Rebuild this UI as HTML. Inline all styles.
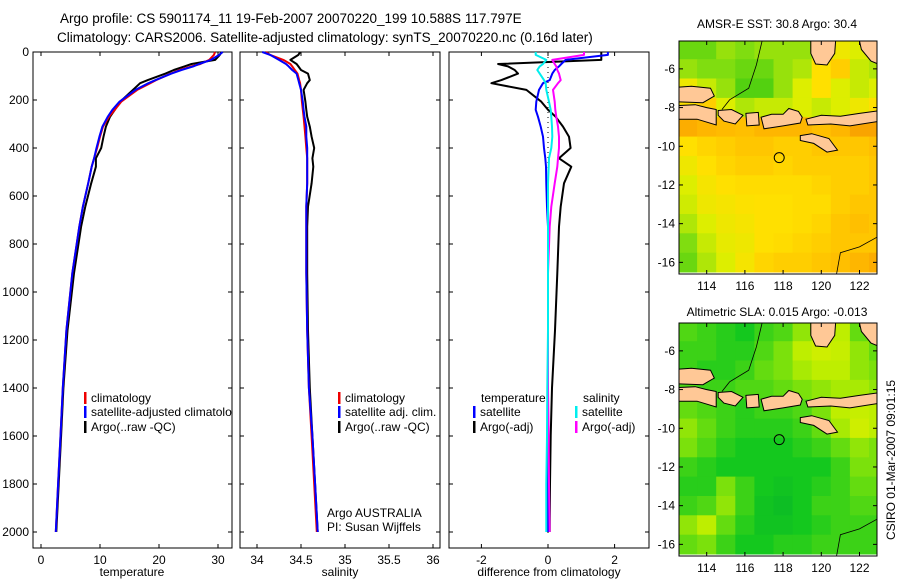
<!DOCTYPE html>
<html><head><meta charset="utf-8">
<style>
html,body{margin:0;padding:0;background:#fff;}
svg{display:block;font-family:"Liberation Sans",sans-serif;}
text{fill:#000;}
</style></head>
<body>
<svg id="fig" width="900" height="580" viewBox="0 0 900 580" xmlns="http://www.w3.org/2000/svg">
<text x="60" y="23" font-size="13.5">Argo profile: CS 5901174_11 19-Feb-2007 20070220_199 10.588S 117.797E</text>
<text x="57" y="42" font-size="13.5">Climatology: CARS2006. Satellite-adjusted climatology: synTS_20070220.nc (0.16d later)</text>
<text x="777" y="28" font-size="12" text-anchor="middle">AMSR-E SST: 30.8 Argo: 30.4</text>
<text x="777" y="316" font-size="12" text-anchor="middle">Altimetric SLA: 0.015 Argo: -0.013</text>
<text transform="translate(895,460) rotate(-90)" font-size="12" text-anchor="middle">CSIRO 01-Mar-2007 09:01:15</text>
<defs><clipPath id="clip-temp-panel"><rect x="33" y="52" width="199" height="496"/></clipPath></defs>
<g id="plots"></g>
</svg>
<script>
// ---- profile data ----
const depths = [0,12,33,50,60,75,90,117,130,158,207,241,270,311,353,400,443,478,547,644,728,922,1160,1400,1600,1800,2000];
const tempClim = [29.5,29.3,28.5,27,25.5,23.5,22,19.5,18.5,16.3,13.6,12.5,11.5,10.5,10,9.5,9,8.6,8,7.1,6.5,5.3,4.3,3.7,3.3,2.9,2.5];
const tempSat  = [30.8,30.2,28.8,26.8,25.8,23.8,22.1,19.4,18.2,16.0,13.3,12.1,11.3,10.4,9.9,9.4,9,8.6,8,7.1,6.5,5.3,4.3,3.7,3.3,2.9,2.5];
const tempArgo = [30.6,30.3,29.5,25.5,24.3,22.5,21.1,18.1,16.8,15.6,13.4,12.5,11.7,11.0,10.6,10.2,9.3,9.3,8.5,7.5,6.8,5.6,4.5,3.8,3.4,3.0,2.6];
const salClim  = [34.1,34.15,34.3,34.38,34.4,34.43,34.46,34.48,34.49,34.5,34.51,34.52,34.53,34.54,34.55,34.56,34.57,34.57,34.57,34.56,34.56,34.56,34.57,34.59,34.62,34.65,34.68];
const salSat   = [34.06,34.15,34.25,34.33,34.36,34.40,34.45,34.47,34.48,34.5,34.52,34.53,34.54,34.56,34.56,34.57,34.57,34.57,34.57,34.56,34.56,34.56,34.57,34.59,34.63,34.66,34.69];
const salArgo  = [34.49,34.47,34.38,34.45,34.47,34.5,34.58,34.6,34.57,34.53,34.55,34.56,34.57,34.6,34.62,34.65,34.63,34.64,34.62,34.58,34.57,34.57,34.58,34.6,34.63,34.66,34.69];
const dTempSat  = [1.8,1.8,0.53,0.4,0.33,0.2,0.13,0.05,-0.15,-0.27,-0.35,-0.37,-0.3,-0.22,-0.15,-0.12,-0.08,-0.06,-0.05,-0.03,0,0,0,0,0,0,0];
const dTempArgo = [1.6,1.6,1.6,-1.5,-1.2,-1.0,-0.9,-1.4,-1.7,-0.65,-0.2,0.0,0.23,0.45,0.63,0.68,0.33,0.7,0.48,0.38,0.33,0.28,0.21,0.12,0.08,0.06,0.05];
const dSalSat   = [-0.37,-0.37,-0.05,-0.15,-0.25,-0.32,-0.25,-0.12,-0.07,-0.05,0.03,0.08,0.1,0.12,0.13,0.1,0.03,0.02,0,0,0,0,0,-0.02,-0.03,-0.05,-0.05];
const dSalArgo  = [1.08,1.08,0.13,0.2,0.25,0.28,0.33,0.38,0.3,0.15,0.2,0.22,0.25,0.3,0.33,0.33,0.3,0.28,0.2,0.1,0.05,0,0,0,0.02,0.03,0.05];
const depthTicks = [0,200,400,600,800,1000,1200,1400,1600,1800,2000];
const tempTicks = [0,10,20,30];
const salTicks = ["34","34.5","35","35.5","36"];
const diffTicks = [-2,0,2];
// ---- map data (1 deg cells, lat -4.5 downward, lon 112.5 eastward) ----
const sstGrid = [
[0.2,0.2,0.3,0.25,0.3,0.3,0.3,0.5,0.5,0.45,0.4],
[0.3,0.25,0.25,0.2,0.2,0.3,0.35,0.55,0.6,0.4,0.35],
[0.5,0.4,0.3,0.15,0.15,0.3,0.45,0.55,0.45,0.4,0.45],
[0.55,0.6,0.45,0.35,0.4,0.4,0.45,0.4,0.45,0.5,0.55],
[0.68,0.66,0.65,0.64,0.66,0.66,0.66,0.64,0.66,0.7,0.7],
[0.55,0.58,0.6,0.62,0.62,0.6,0.6,0.62,0.62,0.62,0.64],
[0.5,0.55,0.58,0.6,0.6,0.58,0.6,0.6,0.6,0.6,0.62],
[0.45,0.52,0.55,0.56,0.56,0.56,0.56,0.58,0.6,0.6,0.62],
[0.42,0.5,0.52,0.54,0.55,0.55,0.56,0.56,0.6,0.62,0.62],
[0.35,0.45,0.5,0.52,0.55,0.55,0.56,0.58,0.62,0.64,0.62],
[0.25,0.4,0.48,0.5,0.55,0.56,0.58,0.6,0.62,0.62,0.62],
[0.2,0.35,0.45,0.52,0.58,0.6,0.6,0.62,0.64,0.66,0.68]];
const slaGrid = [
[0.45,0.4,0.35,0.3,0.4,0.45,0.6,0.8,0.7,0.5,0.4],
[0.4,0.4,0.35,0.35,0.45,0.55,0.7,0.8,0.75,0.6,0.5],
[0.4,0.35,0.35,0.4,0.5,0.55,0.65,0.7,0.7,0.6,0.55],
[0.45,0.4,0.4,0.45,0.45,0.5,0.55,0.6,0.65,0.65,0.6],
[0.5,0.45,0.4,0.35,0.4,0.4,0.45,0.55,0.7,0.75,0.7],
[0.6,0.5,0.4,0.35,0.35,0.35,0.4,0.5,0.65,0.8,0.7],
[0.55,0.45,0.35,0.3,0.3,0.3,0.35,0.4,0.5,0.6,0.55],
[0.4,0.35,0.3,0.3,0.3,0.3,0.3,0.3,0.4,0.55,0.55],
[0.35,0.35,0.55,0.4,0.3,0.25,0.3,0.35,0.4,0.5,0.5],
[0.4,0.45,0.6,0.4,0.25,0.2,0.3,0.4,0.4,0.45,0.45],
[0.6,0.7,0.5,0.35,0.25,0.25,0.3,0.35,0.4,0.4,0.4],
[0.5,0.55,0.4,0.3,0.3,0.35,0.35,0.4,0.4,0.4,0.4]];
const lonTicks = [114,116,118,120,122];
const latTicks = [-6,-8,-10,-12,-14,-16];
const floatLon = 117.797, floatLat = -10.588;
const islands = {
 madura:[[112.5,-6.95],[113.2,-6.9],[114.2,-7.0],[114.4,-7.4],[113.8,-7.75],[112.5,-7.7]],
 java:[[112.5,-7.9],[113.4,-7.85],[114.0,-8.0],[114.5,-8.1],[114.5,-8.9],[113.5,-8.6],[112.5,-8.6]],
 bali:[[114.6,-8.15],[115.3,-8.1],[115.9,-8.4],[115.5,-8.85],[114.9,-8.7],[114.6,-8.4]],
 lombok:[[116.05,-8.3],[116.7,-8.25],[116.75,-8.9],[116.1,-8.95]],
 sumbawa:[[116.85,-8.5],[117.4,-8.35],[118.0,-8.35],[118.3,-8.05],[118.8,-8.2],[119.0,-8.5],[118.9,-8.8],[118.0,-8.95],[117.0,-9.1]],
 flores:[[119.2,-8.6],[120.0,-8.4],[121.0,-8.45],[122.0,-8.3],[123.1,-8.15],[123.1,-8.7],[121.5,-8.95],[120.5,-8.85],[119.3,-8.9]],
 sumba:[[118.9,-9.45],[119.5,-9.35],[120.4,-9.6],[120.85,-10.2],[120.3,-10.3],[119.6,-9.85],[118.9,-9.7]],
 selayar:[[119.45,-4.56],[120.75,-4.56],[120.7,-5.2],[120.3,-5.8],[119.7,-5.75],[119.45,-5.2]],
 sulawesi:[[122.0,-4.56],[123.1,-4.56],[123.1,-5.8],[122.6,-5.6],[122.1,-5.0]]
};
</script>
<script>
const NS="http://www.w3.org/2000/svg";
const root=document.getElementById('plots');
function mk(tag,attrs,parent){const e=document.createElementNS(NS,tag);for(const k in attrs)e.setAttribute(k,attrs[k]);(parent||root).appendChild(e);return e;}
const Y0=52, Ybot=548;
function yD(d){return Y0+d*0.24;}
function frame(x0,x1,name){
  const g=mk('g',{});
  
  
  mk('rect',{x:x0,y:Y0,width:x1-x0,height:Ybot-Y0,fill:'none',stroke:'#000','stroke-width':1},g);
  return g;
}
function yTicks(g,x0,x1,labels){
  depthTicks.forEach(d=>{const y=yD(d);
    mk('line',{x1:x0,x2:x0+4,y1:y,y2:y,stroke:'#000'},g);
    mk('line',{x1:x1,x2:x1-4,y1:y,y2:y,stroke:'#000'},g);
    if(labels){const t=mk('text',{x:x0-4,y:y+4,'font-size':12,'text-anchor':'end'},g);t.textContent=d;
      
      }
  });
}
function xTicks(g,ticks,fx){
  ticks.forEach(v=>{const x=fx(parseFloat(v));
    mk('line',{x1:x,x2:x,y1:Ybot,y2:Ybot-4,stroke:'#000'},g);
    mk('line',{x1:x,x2:x,y1:Y0,y2:Y0+4,stroke:'#000'},g);
    const t=mk('text',{x:x,y:Ybot+16,'font-size':12,'text-anchor':'middle'},g);t.textContent=v;
    
    
  });
}
function line(g,vals,fx,color,name,w){
  const p=vals.map((v,i)=>fx(v).toFixed(1)+','+yD(depths[i]).toFixed(1)).join(' ');
  const e=mk('polyline',{points:p,fill:'none',stroke:color,'stroke-width':w||2,'stroke-linejoin':'round'},g);
  
  
}
function label(g,x,y,s,name,anchor){const t=mk('text',{x:x,y:y,'font-size':12,'text-anchor':anchor||'start'},g);t.textContent=s;
  
  return t;}
function legend(g,x,y,color,s,name){mk('rect',{x:x,y:y-10,width:2.5,height:12,fill:color},g);label(g,x+7,y,s,name);}

// Temperature panel
const fT=v=>41+v*5.9;
let g=frame(33,232,'temperature-panel');
yTicks(g,33,232,true);xTicks(g,tempTicks,fT);
line(g,tempArgo,fT,'#000','temp-argo-line');
line(g,tempClim,fT,'#e00','temp-climatology-line');
line(g,tempSat,fT,'#00f','temp-satellite-line');
label(g,132,576,'temperature','temperature-axis-title','middle');
const lg=mk('g',{'clip-path':'url(#clip-temp-panel)'},g);
legend(lg,84,402,'#e00','climatology','legend-climatology');
legend(lg,84,416,'#00f','satellite-adjusted climatology','legend-satellite');
legend(lg,84,431,'#000','Argo(..raw -QC)','legend-argo');

// Salinity panel
const fS=v=>257+(v-34)*88;
g=frame(240,440,'salinity-panel');
yTicks(g,240,440,false);xTicks(g,salTicks,fS);
line(g,salArgo,fS,'#000','sal-argo-line');
line(g,salClim,fS,'#e00','sal-climatology-line');
line(g,salSat,fS,'#00f','sal-satellite-line');
label(g,340,576,'salinity','salinity-axis-title','middle');
legend(g,338,402,'#e00','climatology','legend-sal-climatology');
legend(g,338,416,'#00f','satellite adj. clim.','legend-sal-satellite');
legend(g,338,431,'#000','Argo(..raw -QC)','legend-sal-argo');
label(g,327,517,'Argo AUSTRALIA','agency-label');
label(g,327,531,'PI: Susan Wijffels','pi-label');

// Difference panel
const fD=v=>548+v*33.3;
g=frame(449,649,'difference-panel');
yTicks(g,449,649,false);xTicks(g,diffTicks,fD);
mk('line',{x1:fD(0),x2:fD(0),y1:Y0,y2:Ybot-12,stroke:'#000','stroke-dasharray':'1,4'},g);
line(g,dTempArgo,fD,'#000','dtemp-argo-line');
line(g,dTempSat,fD,'#00f','dtemp-satellite-line');
line(g,dSalArgo,fD,'#f0f','dsal-argo-line');
line(g,dSalSat,fD,'#0ee','dsal-satellite-line');
label(g,549,576,'difference from climatology','difference-axis-title','middle');
label(g,481,402,'temperature','legend-temp-header');
legend(g,473,416,'#00f','satellite','legend-dtemp-satellite');
legend(g,473,431,'#000','Argo(-adj)','legend-dtemp-argo');
label(g,583,402,'salinity','legend-sal-header');
legend(g,575,416,'#0ee','satellite','legend-dsal-satellite');
legend(g,575,431,'#f0f','Argo(-adj)','legend-dsal-argo');

// Maps
function lerpC(stops,v){for(let i=1;i<stops.length;i++){if(v<=stops[i][0]){const a=stops[i-1],b=stops[i],t=(v-a[0])/(b[0]-a[0]);
  return 'rgb('+[0,1,2].map(k=>Math.round(a[1][k]+(b[1][k]-a[1][k])*t)).join(',')+')';}}const l=stops[stops.length-1][1];return 'rgb('+l.join(',')+')';}
const sstStops=[[0,[16,192,16]],[0.25,[128,221,16]],[0.45,[221,238,0]],[0.55,[255,224,0]],[0.65,[255,187,0]],[0.8,[238,119,0]],[1,[204,34,0]]];
const slaStops=[[0,[0,170,48]],[0.3,[20,200,30]],[0.5,[100,220,16]],[0.7,[190,238,0]],[1,[238,238,0]]];
function map(top,grid,stops,name){
  const L=679,R=877,B=top+233;
  const fx=lon=>L+(lon-112.55)*19.1, fy=lat=>top+(-4.56-lat)*19.35;
  const g=mk('g',{});
  
  
  const cp='clip-'+name;
  const cpe=mk('clipPath',{id:cp},g);mk('rect',{x:L,y:top,width:R-L,height:B-top},cpe);
  const inner=mk('g',{'clip-path':'url(#'+cp+')'},g);
  grid.forEach((row,r)=>row.forEach((v,c)=>{
    const lon=112.5+c, lat=-4.5-r;
    const e=mk('rect',{x:fx(lon).toFixed(1),y:fy(lat).toFixed(1),width:19.6,height:19.8,fill:lerpC(stops,v)},inner);
    
    
  }));
  for(const k in islands){
    const e=mk('polygon',{points:islands[k].map(p=>fx(p[0]).toFixed(1)+','+fy(p[1]).toFixed(1)).join(' '),fill:'#ffc896',stroke:'#000','stroke-width':1},inner);
    
    
  }
  mk('polyline',{points:[[116.9,-4.56],[116.6,-5.8],[116.2,-7.0],[115.2,-7.6],[114.8,-8.1]].map(p=>fx(p[0])+','+fy(p[1])).join(' '),fill:'none',stroke:'#000','stroke-width':0.8},inner);
  mk('polyline',{points:[[120.8,-16.6],[121.0,-15.5],[122.0,-15.2],[123.1,-14.6]].map(p=>fx(p[0])+','+fy(p[1])).join(' '),fill:'none',stroke:'#000','stroke-width':0.8},inner);
  const c=mk('circle',{cx:fx(floatLon),cy:fy(floatLat),r:5,fill:'none',stroke:'#000','stroke-width':1},g);
  
  
  mk('rect',{x:L,y:top,width:R-L,height:B-top,fill:'none',stroke:'#000'},g);
  lonTicks.forEach(v=>{const x=fx(v);mk('line',{x1:x,x2:x,y1:B,y2:B-4,stroke:'#000'},g);mk('line',{x1:x,x2:x,y1:top,y2:top+4,stroke:'#000'},g);
    const t=mk('text',{x:x,y:B+16,'font-size':12,'text-anchor':'middle'},g);t.textContent=v;
    
    });
  latTicks.forEach(v=>{const y=fy(v);mk('line',{x1:L,x2:L+4,y1:y,y2:y,stroke:'#000'},g);mk('line',{x1:R,x2:R-4,y1:y,y2:y,stroke:'#000'},g);
    const t=mk('text',{x:L-4,y:y+4,'font-size':12,'text-anchor':'end'},g);t.textContent=v;
    
    });
}
map(41,sstGrid,sstStops,'sst-map');
map(323,slaGrid,slaStops,'sla-map');
</script>
</body></html>
